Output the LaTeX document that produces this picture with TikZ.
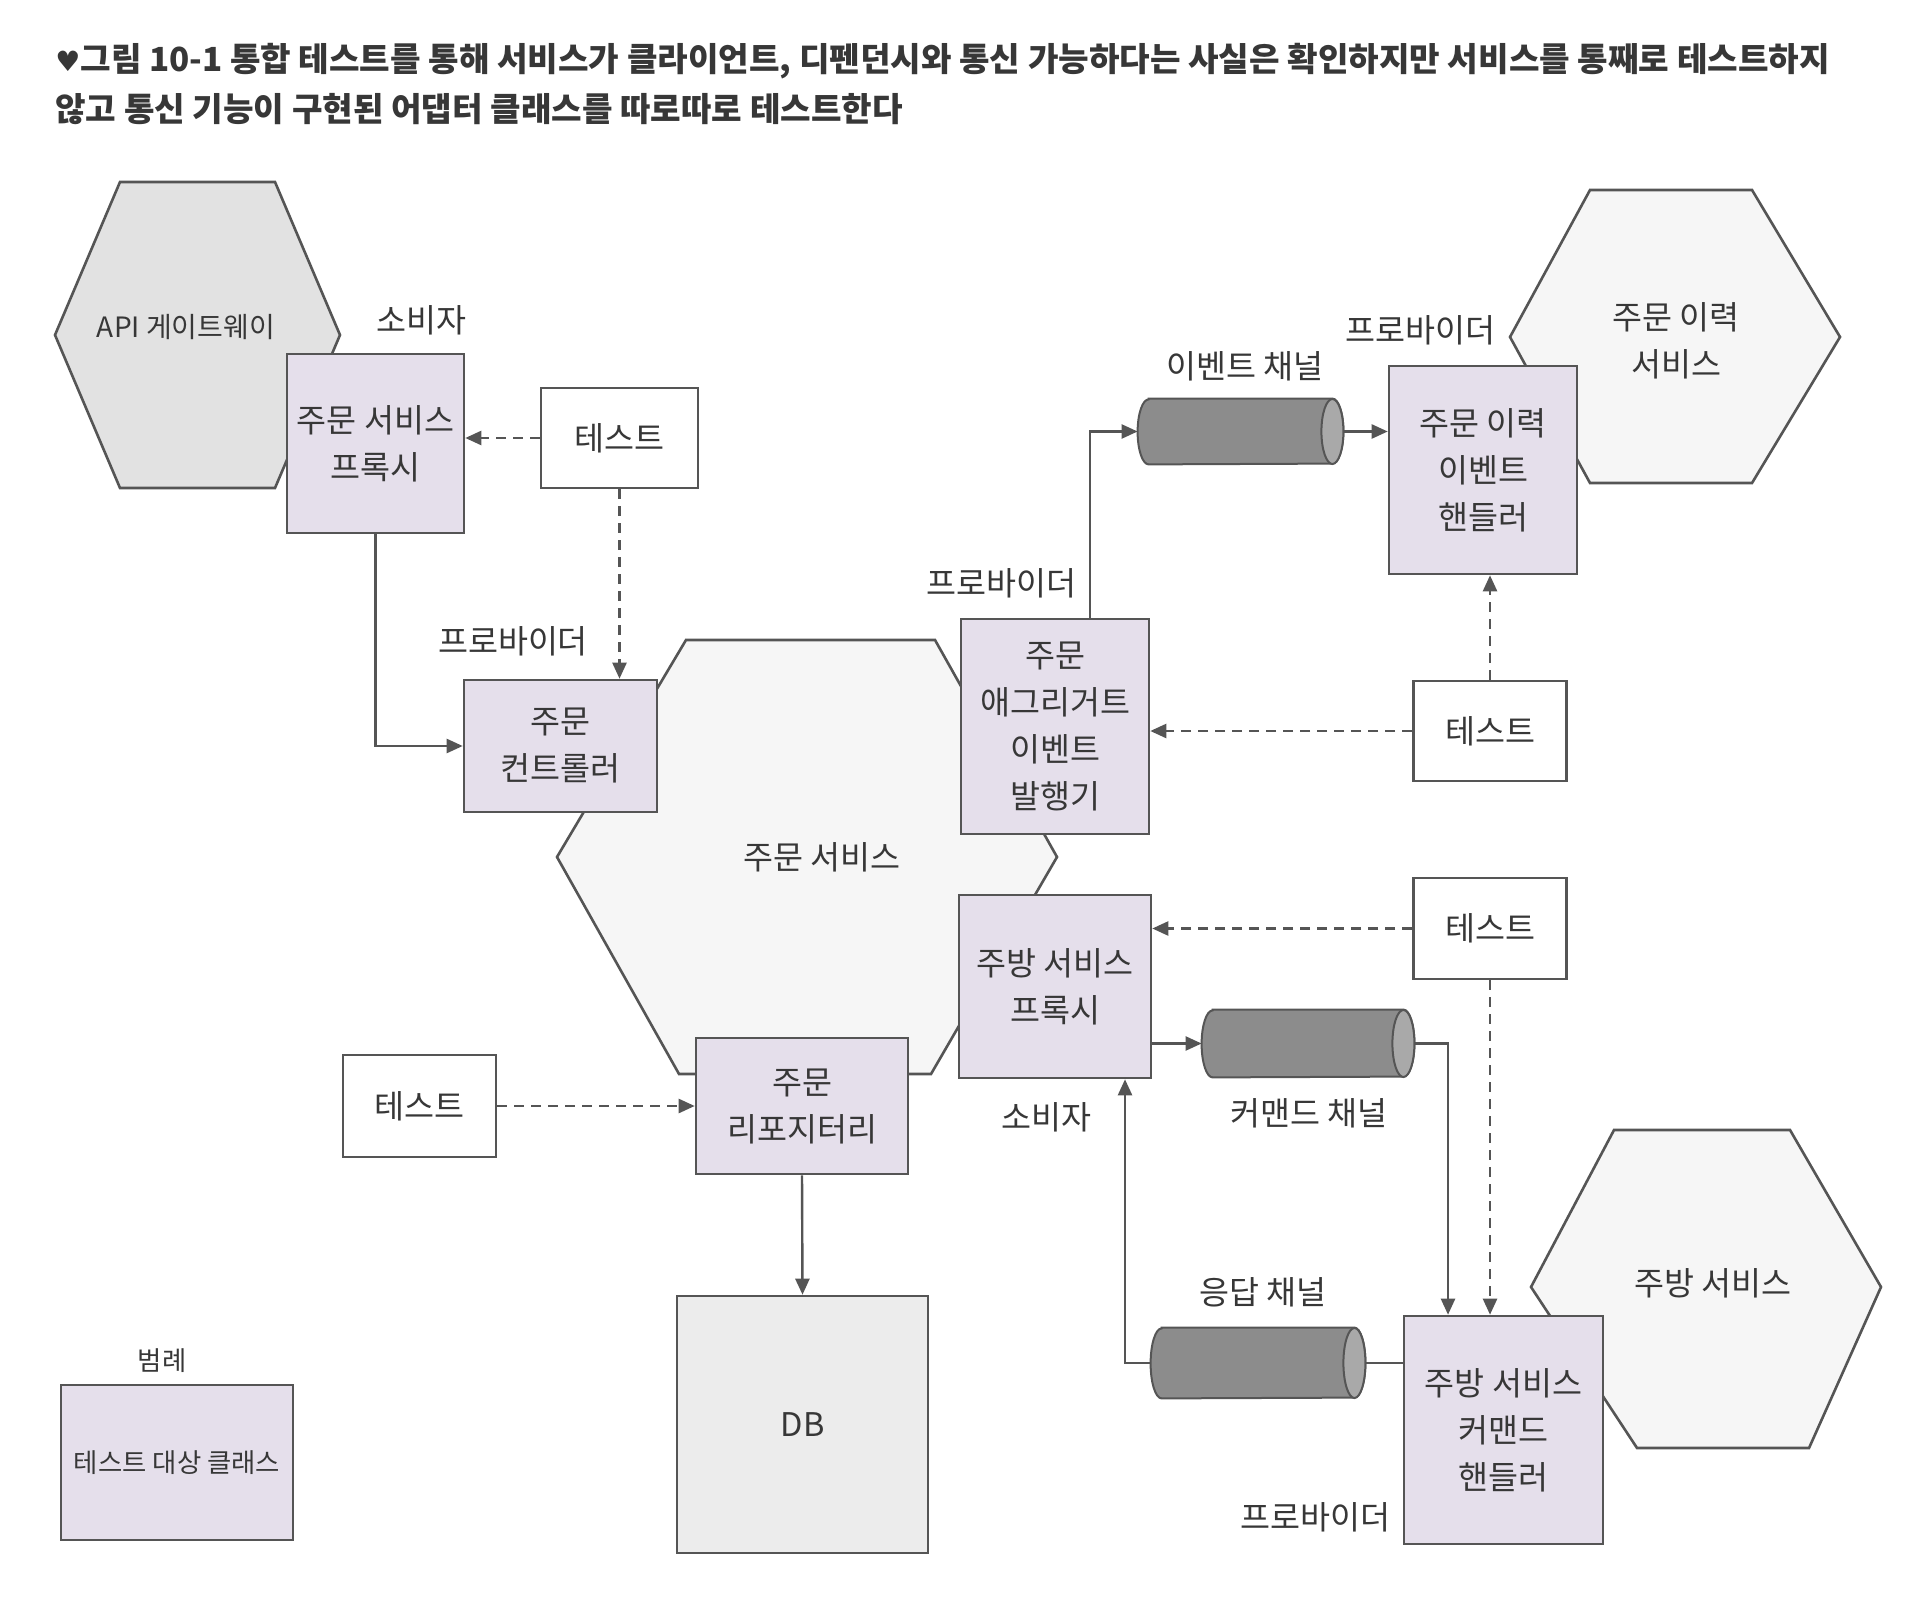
\documentclass[tikz,border=0pt]{standalone}
\usepackage{fontspec}
\setmainfont{Noto Sans CJK KR}
\newfontfamily\symfont{DejaVu Sans}
\usetikzlibrary{arrows.meta,calc}
\definecolor{lav}{RGB}{229,223,235}
\definecolor{lc}{RGB}{85,85,85}
\definecolor{tc}{RGB}{55,55,55}
\definecolor{hexg}{RGB}{226,226,226}
\definecolor{hexl}{RGB}{246,246,246}
\definecolor{dbg}{RGB}{236,236,236}
\definecolor{cylg}{RGB}{140,140,140}
\newcommand\boxfont{\fontsize{16.3pt}{23.5pt}\selectfont}
\newcommand\apifont{\fontsize{14pt}{17pt}\selectfont}
\newcommand\legfont{\fontsize{13.2pt}{16pt}\selectfont}
\newcommand\capfont{\fontsize{16.6pt}{20pt}\selectfont\bfseries}
\newcommand\drawcyl[3]{%
  \draw[cylstroke, fill=cylg] ([xshift=#2]#1.north west) -- ([xshift=-#2]#1.north east)
    arc[start angle=90,end angle=-90,x radius=#2,y radius=#3]
    -- ([xshift=#2]#1.south west)
    arc[start angle=270,end angle=90,x radius=#2,y radius=#3] -- cycle;
  \draw[cylstroke, fill=cylg!75!white] ([xshift=-#2]#1.east) ellipse [x radius=#2, y radius=#3];
}
\begin{document}
\begin{tikzpicture}[x=0.5pt,y=-0.5pt,
  box/.style={draw=lc, line width=1.3pt, fill=lav, inner sep=0pt, align=center, font=\boxfont, text=tc},
  testbox/.style={box, fill=white},
  lbl/.style={text=tc, font=\boxfont, inner sep=0pt, align=center},
  chan/.style={draw=none, inner sep=0pt},
  cylstroke/.style={draw=lc, line width=1pt},
  hex/.style={draw=lc, line width=1.3pt},
  arr/.style={draw=lc, line width=1.2pt, -{Triangle[length=8pt,width=7pt]}},
  dsh/.style={arr, dash pattern=on 5pt off 3.5pt},
  plain/.style={draw=lc, line width=1.2pt}]
\useasboundingbox (0,0) rectangle (1914,1598);
\fill[white] (0,0) rectangle (1914,1598);

% caption
\node[anchor=base west, inner sep=0pt, font=\capfont, text=tc] (cap1) at (55,72)
  {{\symfont\fontsize{14pt}{16pt}\selectfont ♥}그림 10-1 통합 테스트를 통해 서비스가 클라이언트, 디펜던시와 통신 가능하다는 사실은 확인하지만 서비스를 통째로 테스트하지};
\node[anchor=base west, inner sep=0pt, font=\capfont, text=tc] (cap2) at (55,122)
  {않고 통신 기능이 구현된 어댑터 클래스를 따로따로 테스트한다};

% hexagons (background)
\draw[hex, fill=hexg] (55,335) -- (120,182) -- (275,182) -- (340,335) -- (275,488) -- (120,488) -- cycle;
\node[lbl, font=\apifont] (apigw) at (186,327) {API 게이트웨이};

\draw[hex, fill=hexl] (557,857) -- (686,640) -- (935,640) -- (1057,857) -- (931,1074) -- (679,1074) -- cycle;
\node[lbl] (ordersvc) at (822,857) {주문 서비스};

\draw[hex, fill=hexl] (1510,337) -- (1590,190) -- (1752,190) -- (1840,337) -- (1752,483) -- (1590,483) -- cycle;
\node[lbl] (histsvc) at (1676,341) {주문 이력\\서비스};

\draw[hex, fill=hexl] (1531,1287) -- (1614,1130) -- (1790,1130) -- (1881,1287) -- (1809,1448) -- (1637,1448) -- cycle;
\node[lbl] (kitsvc) at (1713,1283) {주방 서비스};

% boxes
\node[box, minimum width=88.5pt, minimum height=89.5pt] (proxyO) at (375.5,443.5) {주문 서비스\\프록시};
\node[testbox, minimum width=78.5pt, minimum height=50pt] (test1) at (619.5,438) {테스트};
\node[box, minimum width=96.5pt, minimum height=66pt] (ctrl) at (560.5,746) {주문\\컨트롤러};
\node[box, minimum width=94pt, minimum height=107.5pt] (agg) at (1055,726.5) {주문\\애그리거트\\이벤트\\발행기};
\node[box, minimum width=94pt, minimum height=104pt] (histH) at (1483,470) {주문 이력\\이벤트\\핸들러};
\node[testbox, minimum width=76.5pt, minimum height=50pt] (test2) at (1490,731) {테스트};
\node[testbox, minimum width=76.5pt, minimum height=50.5pt] (test3) at (1490,928.5) {테스트};
\node[box, minimum width=96pt, minimum height=91.5pt] (kproxy) at (1055,986.5) {주방 서비스\\프록시};
\node[box, minimum width=99.5pt, minimum height=114pt] (kH) at (1503.5,1430) {주방 서비스\\커맨드\\핸들러};
\node[testbox, minimum width=76.5pt, minimum height=51pt] (test4) at (419.5,1106) {테스트};
\node[box, minimum width=106pt, minimum height=68pt] (repo) at (802,1106) {주문\\리포지터리};
\node[box, fill=dbg, minimum width=125.5pt, minimum height=128.5pt] (db) at (802.5,1424.5) {DB};

% channels
\node[chan, minimum width=102.5pt, minimum height=32.5pt] (evch) at (1240.5,431.5) {};
\drawcyl{evch}{5.5pt}{16.25pt}
\node[chan, minimum width=106pt, minimum height=33.5pt] (cmdch) at (1308,1043.5) {};
\drawcyl{cmdch}{5.5pt}{16.75pt}
\node[chan, minimum width=107pt, minimum height=35pt] (respch) at (1258,1363) {};
\drawcyl{respch}{5.5pt}{17.5pt}

% labels
\node[lbl] (cons1) at (421,320) {소비자};
\node[lbl] (prov1) at (513,641) {프로바이더};
\node[lbl] (prov2) at (1001,583) {프로바이더};
\node[lbl] (prov3) at (1420,330) {프로바이더};
\node[lbl] (evlbl) at (1245,366) {이벤트 채널};
\node[lbl] (cmdlbl) at (1309,1113) {커맨드 채널};
\node[lbl] (resplbl) at (1263,1292) {응답 채널};
\node[lbl] (cons2) at (1046,1117) {소비자};
\node[lbl] (prov4) at (1315,1517) {프로바이더};

% legend
\node[lbl, font=\legfont] (legtitle) at (162,1361) {범례};
\node[box, font=\legfont, minimum width=116pt, minimum height=77.5pt] (legend) at (177,1462.5) {테스트 대상 클래스};

% connectors
\draw[dsh] (test1.west) -- (test1.west -| proxyO.east);
\draw[dsh] (test1.south) -- (test1.south |- ctrl.north);
\draw[arr] (proxyO.south) |- (ctrl.west);
\draw[arr] ([xshift=17.5pt]agg.north) |- (evch.west);
\draw[arr] (evch.east) -- (evch.east -| histH.west);
\draw[dsh] (test2.west) -- (test2.west -| agg.east);
\draw[dsh] (test2.north) -- (test2.north |- histH.south);
\draw[dsh] (test3.west) -- (test3.west -| kproxy.east);
\draw[dsh] (test3.south) -- (test3.south |- kH.north);
\draw[arr] (kproxy.east |- cmdch.west) -- (cmdch.west);
\draw[arr] (cmdch.east) -| ([xshift=-27.75pt]kH.north);
\draw[plain] (kH.west |- respch.east) -- (respch.east);
\draw[arr] (respch.west) -| ([xshift=35pt]kproxy.south);
\draw[dsh] (test4.east) -- (test4.east -| repo.west);
\draw[arr] (repo.south) -- (db.north);
\end{tikzpicture}
\end{document}
